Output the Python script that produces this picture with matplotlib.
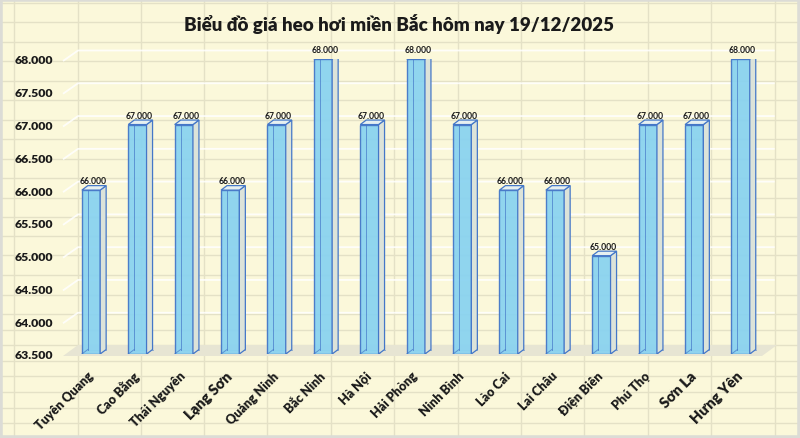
import matplotlib
matplotlib.use("Agg")
import matplotlib.pyplot as plt
from matplotlib.patches import Polygon, Rectangle
from matplotlib.lines import Line2D
import numpy as np

plt.rcParams['font.family'] = ['Lato', 'DejaVu Sans']

# ---------------- data ----------------
title = "Biểu đồ giá heo hơi miền Bắc hôm nay 19/12/2025"
provinces = ["Tuyên Quang", "Cao Bằng", "Thái Nguyên", "Lạng Sơn", "Quảng Ninh",
             "Bắc Ninh", "Hà Nội", "Hải Phòng", "Ninh Bình", "Lào Cai",
             "Lai Châu", "Điện Biên", "Phú Thọ", "Sơn La", "Hưng Yên"]
prices = [66000, 67000, 67000, 66000, 67000,
          68000, 67000, 68000, 67000, 66000,
          66000, 65000, 67000, 67000, 68000]
y_ticks = [63500, 64000, 64500, 65000, 65500, 66000, 66500, 67000, 67500, 68000]
big_label_font = {"Lạng Sơn", "Sơn La", "Hưng Yên"}

def vn(v):
    return f"{v:,.0f}".replace(",", ".")

# ---------------- styling ----------------
W, H = 800, 439
BG = "#FBF8DA"
CELL = "#E4E1C6"
FRONT = "#8AD3F0"
SIDE = "#DCE3D9"
TOP = "#E6F0F1"
EDGE = "#4477C8"

fig = plt.figure(figsize=(W / 100, H / 100), dpi=100, facecolor=BG)

# spreadsheet cell grid in the background
col_x = [14, 77.5, 140.5, 204, 267, 330.5, 394, 457.5, 520.5, 584, 647.5, 711, 774.5]
row_y = [4, 22.7, 42.5, 62, 81.5, 101, 120.5, 140, 159.5, 179, 198.5, 218, 237,
         256, 275.5, 295.5, 315, 330.5, 346, 361.5, 377, 392.5, 408.5, 424]
for xx in col_x:
    fig.add_artist(Line2D([xx / W, xx / W], [0, 1], color=CELL, lw=1.0, zorder=0))
for yy in row_y:
    fig.add_artist(Line2D([0, 1], [1 - yy / H, 1 - yy / H], color=CELL, lw=1.0, zorder=0))
fig.add_artist(Rectangle((0, 0), 1, 1, transform=fig.transFigure, fill=False,
                         edgecolor="#DCDCD6", lw=4, zorder=0))

# plot axes: bar centres at 91 + 46.4*i px ; 63500 -> 355 px, 68000 -> 60 px
step = 46.4
c0 = 91.0
ax_l, ax_r = 63.0, 777.0
ax_t, ax_b = 60.0, 355.0
ax = fig.add_axes([ax_l / W, 1 - ax_b / H, (ax_r - ax_l) / W, (ax_b - ax_t) / H])
ax.patch.set_alpha(0)
xlim = ((ax_l - c0) / step, (ax_r - c0) / step)
ylim = (63500, 68000)
ax.set_xlim(*xlim)
ax.set_ylim(*ylim)
for s in ax.spines.values():
    s.set_visible(False)

px_per_x = step
px_per_y = (ax_b - ax_t) / (ylim[1] - ylim[0])
ddx, ddy = 6 / px_per_x, 4.5 / px_per_y        # bar depth
fdx, fdy = 15 / px_per_x, 11 / px_per_y        # wall / floor depth
bw = 18.3 / px_per_x

# floor
fb = ylim[0] - 2 / px_per_y
floor = Polygon([(xlim[0], fb), (xlim[1] - fdx, fb),
                 (xlim[1], fb + fdy), (xlim[0] + fdx, fb + fdy)],
                closed=True, facecolor="#E7E5D3", edgecolor="none", zorder=1,
                clip_on=False)
ax.add_patch(floor)

# back wall gridlines (whitish)
for t in y_ticks[1:]:
    yy = t - 2 / px_per_y
    ax.plot([xlim[0], xlim[0] + fdx, xlim[1] - 0.05],
            [yy, yy + fdy - 0.5 / px_per_y, yy + fdy - 0.5 / px_per_y],
            color="white", lw=1.3, alpha=0.85, zorder=1, clip_on=False,
            solid_capstyle="butt")

# bars
x = np.arange(len(provinces))
bars = ax.bar(x, [p - ylim[0] for p in prices], bottom=ylim[0], width=bw,
              color=FRONT, edgecolor=EDGE, linewidth=1.0, zorder=4, alpha=0.95)

for xi, p in zip(x, prices):
    l, r = xi - bw / 2, xi + bw / 2
    b, t = ylim[0], p
    ax.plot([l + ddx, l + ddx], [b + ddy, t + ddy], color=EDGE, lw=0.7, alpha=0.7, zorder=5)
    ax.plot([l, l + ddx], [b, b + ddy], color=EDGE, lw=0.7, alpha=0.7, zorder=5)
    ax.plot([l + ddx, r + ddx], [b + ddy, b + ddy], color=EDGE, lw=0.7, alpha=0.5, zorder=3)
    ax.add_patch(Polygon([(r, b), (r + ddx, b + ddy), (r + ddx, t + ddy), (r, t)],
                         closed=True, facecolor=SIDE, edgecolor=EDGE, lw=0.9, zorder=4))
    ax.add_patch(Polygon([(l, t), (r, t), (r + ddx, t + ddy), (l + ddx, t + ddy)],
                         closed=True, facecolor=TOP, edgecolor=EDGE, lw=0.9, zorder=6))
    ax.text(xi + 0.04, t + 9.5 / px_per_y, vn(p), ha="center", va="center",
            fontsize=6.2, fontweight="bold", color="#1A1A1A", zorder=7)

# y tick labels
ax.set_yticks(y_ticks)
ax.set_yticklabels([vn(t) for t in y_ticks])
ax.tick_params(axis="y", length=0, pad=7, labelsize=8.8, labelcolor="#1A1A1A")
for lab in ax.get_yticklabels():
    lab.set_fontweight("heavy")

# x tick labels
ax.set_xticks(x)
ax.set_xticklabels(provinces)
ax.tick_params(axis="x", length=0, pad=14)
for lab, name in zip(ax.get_xticklabels(), provinces):
    lab.set_rotation(45)
    lab.set_ha("right")
    lab.set_va("center")
    lab.set_rotation_mode("anchor")
    lab.set_fontweight("heavy")
    lab.set_color("#1A1A1A")
    lab.set_fontsize(10.5 if name in big_label_font else 9)

fig.text(399 / W, 1 - 24 / H, title, ha="center", va="center", fontsize=13.5,
         fontweight="heavy", color="#1A1A1A")

fig.savefig("out.png", dpi=100, facecolor=BG)
